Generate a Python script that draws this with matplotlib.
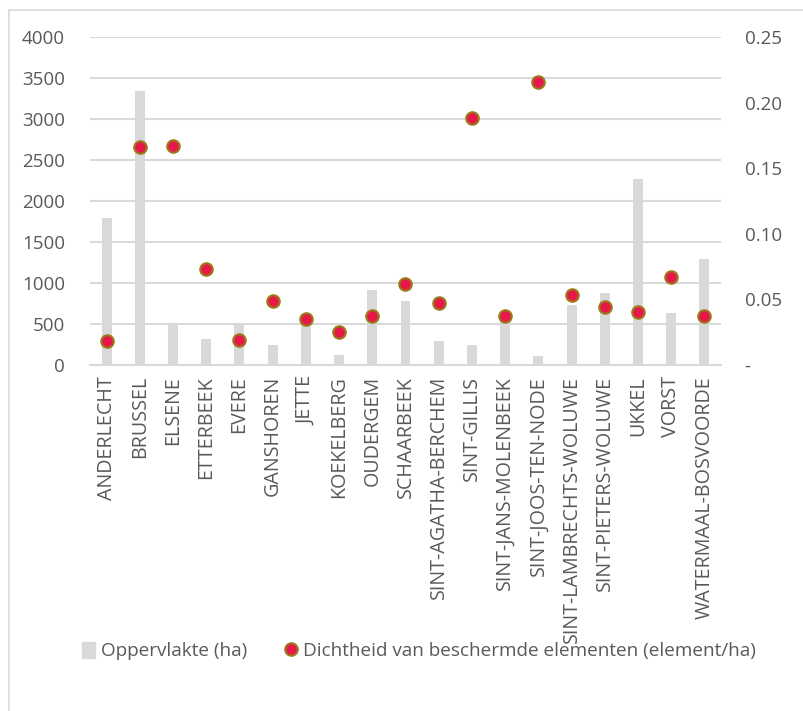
import matplotlib
matplotlib.use("Agg")
import matplotlib.pyplot as plt
from matplotlib.patches import Rectangle
from matplotlib.lines import Line2D
from matplotlib.ticker import FuncFormatter

plt.rcParams['font.family'] = ['Open Sans', 'DejaVu Sans']

gemeenten = ["ANDERLECHT", "BRUSSEL", "ELSENE", "ETTERBEEK", "EVERE", "GANSHOREN",
             "JETTE", "KOEKELBERG", "OUDERGEM", "SCHAARBEEK", "SINT-AGATHA-BERCHEM",
             "SINT-GILLIS", "SINT-JANS-MOLENBEEK", "SINT-JOOS-TEN-NODE",
             "SINT-LAMBRECHTS-WOLUWE", "SINT-PIETERS-WOLUWE", "UKKEL", "VORST",
             "WATERMAAL-BOSVOORDE"]
oppervlakte = [1795, 3338, 500, 313, 502, 244, 504, 125, 914, 784, 296, 240,
               589, 112, 727, 873, 2274, 629, 1287]
dichtheid = [0.0185, 0.1662, 0.1670, 0.0731, 0.0193, 0.0490, 0.0348, 0.0249,
             0.0373, 0.0617, 0.0472, 0.1886, 0.0373, 0.2155, 0.0536, 0.0444,
             0.0401, 0.0670, 0.0373]

grey_txt = "#595959"
grid_c = "#D9D9D9"
bar_c = "#D9D9D9"
dot_fill = "#E8174A"
dot_edge = "#9C7A1A"

fig = plt.figure(figsize=(8.04, 7.11), dpi=100)
fig.patches.append(Rectangle((9 / 804, -0.01), 1.0, 1 - 10 / 711 + 0.01,
                             transform=fig.transFigure, fill=False,
                             edgecolor=grid_c, lw=1.2))

ax = fig.add_axes([90 / 804, 1 - 365 / 711, (721 - 90) / 804, (365 - 37) / 711])
x = list(range(len(gemeenten)))
ax.bar(x, oppervlakte, width=0.3, color=bar_c, zorder=2)
ax.set_xlim(-0.5, len(gemeenten) - 0.5)
ax.set_ylim(0, 4000)
ax.set_yticks(range(0, 4001, 500))
ax.yaxis.grid(True, color=grid_c, lw=1.5, zorder=0)
ax.set_axisbelow(True)
for s in ax.spines.values():
    s.set_visible(False)
ax.spines['bottom'].set_visible(True)
ax.spines['bottom'].set_color(grid_c)
ax.spines['bottom'].set_linewidth(1.5)
ax.tick_params(axis='y', length=0, pad=18, labelsize=13.5, labelcolor=grey_txt)
ax.tick_params(axis='x', length=0, pad=8, labelsize=14.2, labelcolor=grey_txt)
ax.set_xticks(x)
ax.set_xticklabels(gemeenten, rotation=90)

ax2 = ax.twinx()
ax2.set_ylim(0, 0.25)
ax2.set_yticks([0, 0.05, 0.10, 0.15, 0.20, 0.25])
ax2.yaxis.set_major_formatter(FuncFormatter(lambda v, p: "-" if v == 0 else f"{v:.2f}"))
for s in ax2.spines.values():
    s.set_visible(False)
ax2.tick_params(axis='y', length=0, pad=17, labelsize=13.5, labelcolor=grey_txt)
ax2.plot(x, dichtheid, linestyle='none', marker='o', markersize=9,
         markerfacecolor=dot_fill, markeredgecolor=dot_edge, markeredgewidth=1.5,
         zorder=3)

handles = [Rectangle((0, 0), 1, 1, color=bar_c),
           Line2D([], [], linestyle='none', marker='o', markersize=9,
                  markerfacecolor=dot_fill, markeredgecolor=dot_edge,
                  markeredgewidth=1.5)]
labels = ["Oppervlakte (ha)", "Dichtheid van beschermde elementen (element/ha)"]
fig.legend(handles, labels, loc='center', bbox_to_anchor=(419 / 804, 1 - 651 / 711),
           ncol=2, frameon=False, fontsize=13.6, labelcolor=grey_txt,
           handlelength=0.7, handleheight=0.9, handletextpad=0.3, columnspacing=2.0)

fig.savefig("out.png", dpi=100, facecolor="white")
